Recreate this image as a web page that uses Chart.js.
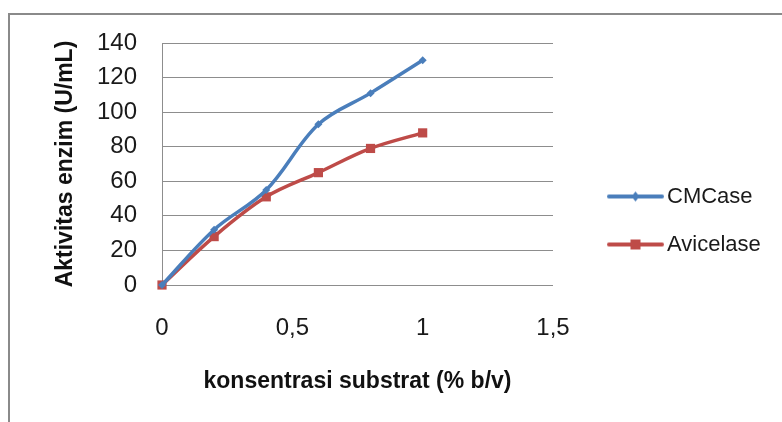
<!DOCTYPE html>
<html>
<head>
<meta charset="utf-8">
<script src="https://cdn.jsdelivr.net/npm/chart.js@4.4.1/dist/chart.umd.min.js"></script>
<style>
  html, body { margin: 0; padding: 0; background: #ffffff; overflow: hidden; }
  #frame { position: absolute; left: 8px; top: 13px; width: 820px; height: 460px; border: 2px solid #8a8a8a; }
  #wrap { position: absolute; left: 0; top: 0; width: 782px; height: 422px; }
</style>
</head>
<body>
<div id="frame"></div>
<div id="wrap"><canvas id="chart" width="782" height="422"></canvas></div>
<script>
// substrate concentration (% b/v)
const concentrations = [0, 0.2, 0.4, 0.6, 0.8, 1.0];
// enzyme activity (U/mL)
const cmcase = [0, 32, 55, 93, 111, 130];
const avicelase = [0, 28, 51, 65, 79, 88];
const seriesNames = ['CMCase', 'Avicelase'];
const yTitle = 'Aktivitas enzim (U/mL)';
const xTitle = 'konsentrasi substrat (% b/v)';

const BLUE = '#4a7ebb';
const RED = '#be4b48';
const FONT = "'Liberation Sans', Arial, sans-serif";

const toPoints = (xs, ys) => xs.map((x, i) => ({ x: x, y: ys[i] }));

// small legend glyph: a line segment with the series marker in the middle
function legendGlyph(color, marker) {
  const c = document.createElement('canvas');
  c.width = 64; c.height = 12;
  const g = c.getContext('2d');
  g.strokeStyle = color; g.lineWidth = 4; g.lineCap = 'round';
  g.beginPath(); g.moveTo(9, 6); g.lineTo(62, 6); g.stroke();
  g.fillStyle = color;
  if (marker === 'square') {
    g.fillRect(30.5, 1, 10, 10);
  } else {
    g.beginPath(); g.moveTo(35.5, 1); g.lineTo(39.5, 6); g.lineTo(35.5, 11); g.lineTo(31.5, 6); g.closePath(); g.fill();
  }
  return c;
}
const glyphs = [legendGlyph(BLUE, 'diamond'), legendGlyph(RED, 'square')];

// keeps the legend column a fixed width and nudges it beside the plot
const legendPlacement = {
  id: 'legendPlacement',
  afterInit(chart) {
    const lg = chart.legend;
    const fit = lg.fit;
    lg.fit = function () { fit.call(this); this.width = 229; };
  },
  afterLayout(chart) {
    const lg = chart.legend;
    const dx = 29, dy = -12;
    lg.left += dx; lg.right += dx; lg.top += dy; lg.bottom += dy;
  }
};

new Chart(document.getElementById('chart'), {
  type: 'line',
  data: {
    datasets: [
      {
        label: seriesNames[0],
        data: toPoints(concentrations, cmcase),
        borderColor: BLUE, backgroundColor: BLUE,
        borderWidth: 3.5, tension: 0.35,
        pointStyle: 'rectRot', pointRadius: 4, pointBorderWidth: 0,
        clip: false
      },
      {
        label: seriesNames[1],
        data: toPoints(concentrations, avicelase),
        borderColor: RED, backgroundColor: RED,
        borderWidth: 3.5, tension: 0.35,
        pointStyle: 'rect', pointRadius: 6.5, pointBorderWidth: 0,
        clip: false
      }
    ]
  },
  options: {
    responsive: false,
    animation: false,
    devicePixelRatio: 1,
    layout: { padding: { left: 0, top: 43, right: 0, bottom: 0 } },
    plugins: {
      tooltip: { enabled: false },
      legend: {
        position: 'right',
        labels: {
          usePointStyle: true,
          pointStyleWidth: 48,
          padding: 26,
          color: '#1a1a1a',
          font: { family: FONT, size: 22 },
          generateLabels(chart) {
            return chart.data.datasets.map((ds, i) => ({
              text: ds.label,
              pointStyle: glyphs[i],
              fillStyle: ds.borderColor,
              strokeStyle: ds.borderColor,
              lineWidth: 0,
              hidden: false,
              datasetIndex: i,
              fontColor: '#1a1a1a'
            }));
          }
        }
      }
    },
    scales: {
      x: {
        type: 'linear',
        min: 0, max: 1.5,
        afterFit(scale) { scale.height = 137; },
        ticks: {
          stepSize: 0.5,
          padding: 29,
          color: '#1a1a1a',
          font: { family: FONT, size: 24 },
          callback: v => String(v).replace('.', ',')
        },
        grid: { display: false, drawTicks: false },
        border: { display: false },
        title: {
          display: true, text: xTitle, color: '#111111',
          font: { family: FONT, size: 23, weight: 'bold' },
          padding: { top: 0, bottom: 27 }
        }
      },
      y: {
        min: 0, max: 140,
        afterFit(scale) { scale.width = 162; },
        ticks: {
          stepSize: 20,
          padding: 25,
          color: '#1a1a1a',
          font: { family: FONT, size: 24 }
        },
        grid: { color: '#8d8d8d', lineWidth: 1, drawTicks: false },
        border: { display: true, color: '#8d8d8d', width: 1 },
        title: {
          display: true, text: yTitle, color: '#111111',
          font: { family: FONT, size: 23, weight: 'bold' },
          padding: { top: 52, bottom: 0 }
        }
      }
    }
  },
  plugins: [legendPlacement]
});
</script>
</body>
</html>
